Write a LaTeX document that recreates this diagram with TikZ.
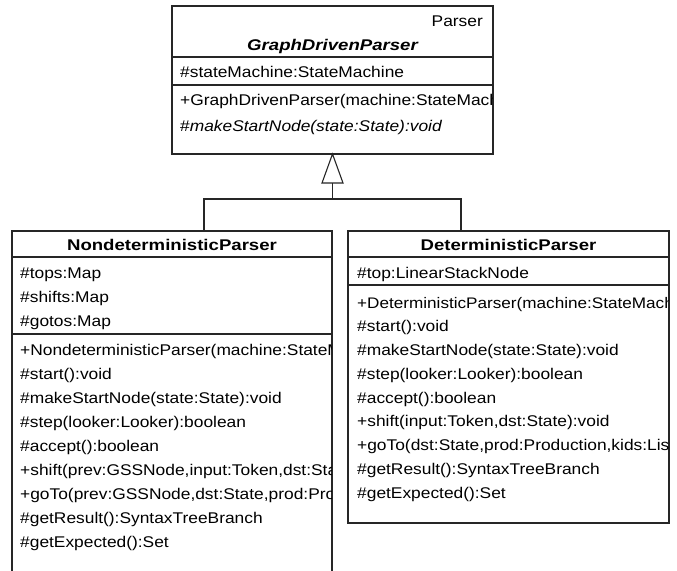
\documentclass[tikz,border=0pt]{standalone}
\usepackage{fontspec}
\setmainfont{Liberation Sans}[FakeStretch=1.12]
\newfontfamily\hdrfont{Liberation Sans}[FakeStretch=1.2]
\begin{document}
\begin{tikzpicture}[x=1pt,y=-1pt,
  umlbox/.style={draw=black!85, line width=1.2pt, inner sep=0pt, outer sep=0pt, anchor=north west},
  sepline/.style={draw=black!85, line width=1.1pt},
  conn/.style={draw=black!85, line width=1.1pt},
  txt/.style={anchor=base west, inner sep=0pt, font=\fontsize{15.5}{18}\selectfont},
  hdr/.style={anchor=base, inner sep=0pt, font=\fontsize{15.5}{18}\selectfont\hdrfont\bfseries}]
\useasboundingbox (0,0) rectangle (677,570);
\fill[white] (0,0) rectangle (677,570);

% ---------- boxes
\node[umlbox, minimum width=321pt, minimum height=148pt] (gdp) at (172,6) {};
\node[umlbox, minimum width=320pt, minimum height=360pt] (nd) at (12,231) {};
\node[umlbox, minimum width=321pt, minimum height=292pt] (dp) at (348,231) {};

% separators
\draw[sepline] (gdp.west |- 0,57) -- (gdp.east |- 0,57);
\draw[sepline] (gdp.west |- 0,85) -- (gdp.east |- 0,85);
\draw[sepline] (nd.west |- 0,257) -- (nd.east |- 0,257);
\draw[sepline] (nd.west |- 0,334) -- (nd.east |- 0,334);
\draw[sepline] (dp.west |- 0,257) -- (dp.east |- 0,257);
\draw[sepline] (dp.west |- 0,285) -- (dp.east |- 0,285);

% ---------- texts of GraphDrivenParser
\begin{scope}
\clip (172,6) rectangle (492.3,154);
\node[txt, anchor=base east] (g0) at (483,26) {Parser};
\node[hdr] (g1) at (332.5,50) {\itshape GraphDrivenParser};
\node[txt] (g2) at (180,77) {\#stateMachine:StateMachine};
\node[txt] (g3) at (180,105) {+GraphDrivenParser(machine:StateMach};
\node[txt] (g4) at (180,131) {\#\textit{makeStartNode(state:State):void}};
\end{scope}

% ---------- texts of NondeterministicParser
\begin{scope}
\clip (12,231) rectangle (331.3,591);
\node[hdr] (n0) at (172,250) {NondeterministicParser};
\node[txt] (n1) at (20,278) {\#tops:Map};
\node[txt] (n2) at (20,302) {\#shifts:Map};
\node[txt] (n3) at (20,326) {\#gotos:Map};
\node[txt] (n4) at (20,355) {+NondeterministicParser(machine:StateM};
\node[txt] (n5) at (20,379) {\#start():void};
\node[txt] (n6) at (20,403) {\#makeStartNode(state:State):void};
\node[txt] (n7) at (20,427) {\#step(looker:Looker):boolean};
\node[txt] (n8) at (20,451) {\#accept():boolean};
\node[txt] (n9) at (20,475) {+shift(prev:GSSNode,input:Token,dst:Sta};
\node[txt] (n10) at (20,499) {+goTo(prev:GSSNode,dst:State,prod:Pro};
\node[txt] (n11) at (20,523) {\#getResult():SyntaxTreeBranch};
\node[txt] (n12) at (20,547) {\#getExpected():Set};
\end{scope}

% ---------- texts of DeterministicParser
\begin{scope}
\clip (348,231) rectangle (668.3,523);
\node[hdr] (d0) at (508.5,250) {DeterministicParser};
\node[txt] (d1) at (357,278) {\#top:LinearStackNode};
\node[txt] (d2) at (357,308) {\fontsize{15.3}{18}\selectfont+DeterministicParser(machine:StateMach};
\node[txt] (d3) at (357,331.75) {\#start():void};
\node[txt] (d4) at (357,355.5) {\#makeStartNode(state:State):void};
\node[txt] (d5) at (357,379.25) {\#step(looker:Looker):boolean};
\node[txt] (d6) at (357,403) {\#accept():boolean};
\node[txt] (d7) at (357,426.75) {+shift(input:Token,dst:State):void};
\node[txt] (d8) at (357,450.5) {+goTo(dst:State,prod:Production,kids:Lis};
\node[txt] (d9) at (357,474.25) {\#getResult():SyntaxTreeBranch};
\node[txt] (d10) at (357,498) {\#getExpected():Set};
\end{scope}

% ---------- generalization connector
\coordinate (tb) at (332.5,183);
\coordinate (jn) at (332.5,199);
\coordinate (jl) at (204,199);
\coordinate (jr) at (461,199);
\draw[conn, line join=miter] (gdp.south) -- ([xshift=-10.5pt]tb) -- ([xshift=10.5pt]tb) -- cycle;
\draw[conn] (tb) -- (jn);
\draw[conn] (jl |- nd.north) -- (jl) -- (jr) -- (jr |- dp.north);
\end{tikzpicture}
\end{document}
